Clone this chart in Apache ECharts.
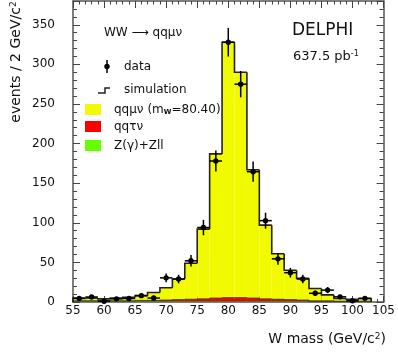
<!DOCTYPE html>
<html><head><meta charset="utf-8">
<script src="https://cdn.jsdelivr.net/npm/echarts@6/dist/echarts.min.js"></script>
<style>html,body{margin:0;padding:0;background:#fff}#c{width:398px;height:353px}</style>
</head><body><div id="c"></div>
<script>
// ---- data ----
const binCenters = [56,58,60,62,64,66,68,70,72,74,76,78,80,82,84,86,88,90,92,94,96,98,100,102];
const binHalfWidth = 1;
const qqmunuSim  = [3.5,3.5,2,3.5,4.5,6,10,15.5,26,45.5,88,182,322.5,284.5,162,93,57.5,37,27.5,15.5,7.5,3.5,2.5,3.5];
const qqtaunuSim = [0.5,0.5,0.5,0.5,0.5,1,1,1.5,2,2.5,3,4,4.5,4.5,4,3,2.5,2,1.5,1,1,0.5,0.5,0.5];
const zgammaSim  = [1,1,1.5,1,1,1,1,1,1,1,1,1,1,1,1,1,1,1,1,0.5,0.5,0.5,0.5,0.5];
const dataCounts = [4.5,6.3,1,4,4.5,8,5,30.5,29,52,94,178,328,275,164.5,102.7,54.5,37,29,11,15,6.5,1.5,4.6];
const dataErrors = [2.1,2.5,1,2,2.1,2.8,2.2,5.5,5.4,7.2,9.7,13.3,18.1,16.6,12.8,10.1,7.4,6.1,5.4,3.3,3.9,2.5,1.2,2.1];
const xRange = [55,105], xStep = 5;
const yRange = [0,380], yStep = 50;

// stacked levels
const greenTop = zgammaSim.slice();
const redTop = zgammaSim.map((v,i)=>v+qqtaunuSim[i]);
const totalTop = redTop.map((v,i)=>v+qqmunuSim[i]);
const zeros = binCenters.map(()=>0);

const FONT = 'DejaVu Sans';
const YELLOW = '#f2fa00', RED = '#ff0000', GREEN = '#66ff00';

function fillSeries(name, lowArr, highArr, color){
  return {type:'custom', name, silent:true, animation:false, clip:true,
    data: binCenters.map((c,i)=>[c, lowArr[i], highArr[i]]),
    encode:{x:0, y:[1,2]},
    renderItem:(p, api)=>{
      const c=api.value(0), lo=api.value(1), hi=api.value(2);
      const a=api.coord([c-binHalfWidth, hi]), b=api.coord([c+binHalfWidth, lo]);
      return {type:'rect', shape:{x:a[0], y:a[1], width:b[0]-a[0], height:b[1]-a[1]}, style:{fill:color}};
    }};
}
function outlineSeries(name, tops, color, width){
  const n = binCenters.length;
  return {type:'custom', name, silent:true, animation:false,
    data: binCenters.map((c,i)=>[c, tops[i], i>0?tops[i-1]:0, i===n-1?1:0]),
    encode:{x:0, y:1},
    renderItem:(p, api)=>{
      const c=api.value(0), t=api.value(1), prev=api.value(2), last=api.value(3);
      const pts=[api.coord([c-binHalfWidth, prev]), api.coord([c-binHalfWidth, t]), api.coord([c+binHalfWidth, t])];
      if(last) pts.push(api.coord([c+binHalfWidth, 0]));
      return {type:'polyline', shape:{points:pts}, style:{stroke:color, lineWidth:width, fill:null, lineJoin:'miter'}};
    }};
}
const dataSeries = {type:'custom', name:'data', silent:true, animation:false, z:10,
  data: binCenters.map((c,i)=>[c, dataCounts[i], dataErrors[i]]),
  encode:{x:0, y:1},
  renderItem:(p, api)=>{
    const x=api.value(0), y=api.value(1), e=api.value(2);
    const c=api.coord([x,y]);
    const t=api.coord([x,y+e]), b=api.coord([x,Math.max(y-e,0)]);
    const l=api.coord([x-binHalfWidth,y]), r=api.coord([x+binHalfWidth,y]);
    return {type:'group', children:[
      {type:'line', shape:{x1:t[0],y1:t[1],x2:b[0],y2:b[1]}, style:{stroke:'#000', lineWidth:1.5}},
      {type:'line', shape:{x1:l[0],y1:l[1],x2:r[0],y2:r[1]}, style:{stroke:'#000', lineWidth:1.5}},
      {type:'circle', shape:{cx:c[0],cy:c[1],r:2.7}, style:{fill:'#000'}}
    ]};
  }};

const axisLineStyle = {color:'#555', width:1.5};
function xAx(pos, labels, len){
  return {type:'value', min:xRange[0], max:xRange[1], interval:xStep, position:pos,
    axisLine:{show:true, onZero:false, lineStyle:axisLineStyle},
    axisTick:{show:true, inside:true, length:len, lineStyle:{color:'#444', width:1}},
    minorTick:{show:true, splitNumber:5, length:len/2, lineStyle:{color:'#444', width:1}},
    splitLine:{show:false},
    axisLabel:{show:labels, margin:3, fontSize:12, color:'#111', fontFamily:FONT}};
}
function yAx(pos, labels){
  return {type:'value', min:yRange[0], max:yRange[1], interval:yStep, position:pos,
    axisLine:{show:true, onZero:false, lineStyle:axisLineStyle},
    axisTick:{show:true, inside:true, length:7, lineStyle:{color:'#444', width:1}},
    minorTick:{show:true, splitNumber:5, length:4, lineStyle:{color:'#444', width:1}},
    splitLine:{show:false},
    axisLabel:{show:labels, margin:18, fontSize:12, color:'#111', fontFamily:FONT, showMaxLabel:false}};
}

const chart = echarts.init(document.getElementById('c'), null, {renderer:'canvas'});
chart.setOption({
  animation:false,
  backgroundColor:'#fff',
  grid:{left:73, right:12, top:1, bottom:51},
  xAxis:[xAx('bottom', true, 6), xAx('top', false, 7)],
  yAxis:[yAx('left', true), yAx('right', false)],
  series:[
    fillSeries('qqμν', redTop, totalTop, YELLOW),
    fillSeries('qqτν', greenTop, redTop, RED),
    fillSeries('Z(γ)+Zll', zeros, greenTop, GREEN),
    outlineSeries('green outline', greenTop, '#333', 0.8),
    outlineSeries('red outline', redTop, '#333', 0.8),
    outlineSeries('simulation', totalTop, '#222', 1.6),
    dataSeries
  ],
  graphic:[
    {type:'text', x:16, y:62, rotation:Math.PI/2, style:{
      text:'{a|events / 2 GeV/c}{s|2}', textAlign:'center', textVerticalAlign:'middle',
      rich:{a:{fontSize:14, fontFamily:FONT, fill:'#111'}, s:{fontSize:9, fontFamily:FONT, fill:'#111', verticalAlign:'top'}}}},
    {type:'text', right:12, y:332, style:{
      text:'{a|W mass (GeV/c}{s|2}{a|)}',
      rich:{a:{fontSize:14, fontFamily:FONT, fill:'#111'}, s:{fontSize:9, fontFamily:FONT, fill:'#111', verticalAlign:'top'}}}},
    {type:'text', x:104, y:33, style:{text:'WW ⟶ qqμν', font:'12px '+FONT, fill:'#111', textVerticalAlign:'middle'}},
    {type:'text', x:292, y:31, style:{text:'DELPHI', font:'17px '+FONT, fill:'#111', textVerticalAlign:'middle'}},
    {type:'text', x:293, y:50, style:{text:'{a|637.5 pb}{s|-1}',
      rich:{a:{fontSize:13, fontFamily:FONT, fill:'#111'}, s:{fontSize:8, fontFamily:FONT, fill:'#111', verticalAlign:'top'}}}},
    // data legend marker
    {type:'line', shape:{x1:107, y1:60, x2:107, y2:73}, style:{stroke:'#000', lineWidth:1.5}},
    {type:'circle', shape:{cx:107, cy:66.5, r:2.7}, style:{fill:'#000'}},
    {type:'text', x:124, y:66.5, style:{text:'data', font:'12px '+FONT, fill:'#111', textVerticalAlign:'middle'}},
    // simulation legend marker
    {type:'polyline', shape:{points:[[98,93],[105,93],[105,88],[110,88]]}, style:{stroke:'#222', lineWidth:1.5, fill:null}},
    {type:'text', x:124, y:90, style:{text:'simulation', font:'12px '+FONT, fill:'#111', textVerticalAlign:'middle'}},
    {type:'rect', shape:{x:85, y:104, width:16, height:11}, style:{fill:YELLOW}},
    {type:'text', x:114, y:109.5, style:{text:'{a|qqμν (m}{w|W}{a|=80.40)}', textVerticalAlign:'middle',
      rich:{a:{fontSize:12, fontFamily:FONT, fill:'#111'}, w:{fontSize:7, fontFamily:FONT, fill:'#111', fontWeight:'bold', verticalAlign:'bottom'}}}},
    {type:'rect', shape:{x:85, y:121, width:16, height:11}, style:{fill:RED}},
    {type:'text', x:114, y:126.5, style:{text:'qqτν', font:'12px '+FONT, fill:'#111', textVerticalAlign:'middle'}},
    {type:'rect', shape:{x:85, y:140, width:16, height:11}, style:{fill:GREEN}},
    {type:'text', x:114, y:145.5, style:{text:'Z(γ)+Zll', font:'12px '+FONT, fill:'#111', textVerticalAlign:'middle'}}
  ]
});
</script>
</body></html>
